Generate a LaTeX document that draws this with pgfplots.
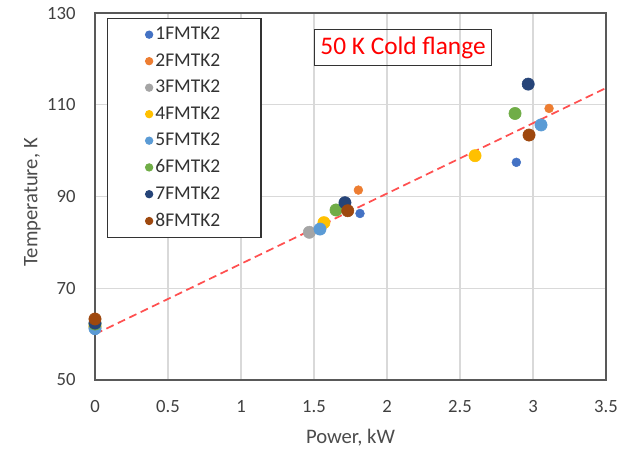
\documentclass[border=0pt]{standalone}
\usepackage{fontspec}
\setmainfont{Carlito}
\usepackage{pgfplots}
\pgfplotsset{compat=1.18}
\definecolor{c1}{HTML}{4472C4}
\definecolor{c2}{HTML}{ED7D31}
\definecolor{c3}{HTML}{A5A5A5}
\definecolor{c4}{HTML}{FFC000}
\definecolor{c5}{HTML}{5B9BD5}
\definecolor{c6}{HTML}{70AD47}
\definecolor{c7}{HTML}{264478}
\definecolor{c8}{HTML}{9E480E}
\definecolor{trend}{HTML}{FF5050}
\begin{document}
\begin{tikzpicture}
\begin{axis}[
  scale only axis, width=383.25pt, height=275.25pt,
  xmin=0, xmax=3.5, ymin=50, ymax=130,
  xtick={0,0.5,1,1.5,2,2.5,3,3.5}, ytick={50,70,90,110,130},
  grid=major, major grid style={draw=black!15, line width=0.9pt},
  axis line style={draw=black!65, line width=1.1pt},
  major tick length=0pt,
  /pgf/number format/assume math mode=true,
  ticklabel style={font=\fontsize{14}{16}\selectfont, text=black!75},
  xticklabel style={yshift=-12pt},
  yticklabel style={xshift=-11pt},
  xlabel={Power, kW}, ylabel={Temperature, K},
  label style={font=\fontsize{15.5}{18}\selectfont, text=black!70},
  xlabel style={at={(axis description cs:0.5,0)}, anchor=center, yshift=-43.5pt},
  ylabel style={at={(axis description cs:0,0.484)}, anchor=center, rotate=0, yshift=47pt},
  legend style={at={(axis description cs:0.0235,0.986)}, anchor=north west,
    draw=black!80, line width=0.8pt, font=\fontsize{14.6}{17}\selectfont,
    row sep=4.9pt, inner xsep=28.5pt, inner ysep=4.5pt, text=black!80},
  legend cell align=left,
]
\addplot[trend, line width=1.3pt, dash pattern=on 6pt off 3.5pt, forget plot] coordinates {(0,60) (3.5,113.65)};
\addplot[only marks, mark=*, mark size=3.3pt, color=c1, legend image post style={mark size=2.7pt}]
  coordinates {(0,60.8) (1.815,86.3) (2.886,97.45)};
\addlegendentry{1FMTK2}
\addplot[only marks, mark=*, mark size=3.3pt, color=c2, legend image post style={mark size=2.7pt}]
  coordinates {(0,61.3) (1.804,91.4) (3.11,109.2)};
\addlegendentry{2FMTK2}
\addplot[only marks, mark=*, mark size=4.6pt, color=c3, legend image post style={mark size=2.7pt}]
  coordinates {(0,61.5) (1.468,82.2)};
\addlegendentry{3FMTK2}
\addplot[only marks, mark=*, mark size=4.6pt, color=c4, legend image post style={mark size=2.7pt}]
  coordinates {(0,61.7) (1.568,84.3) (2.603,98.9)};
\addlegendentry{4FMTK2}
\addplot[only marks, mark=*, mark size=4.6pt, color=c5, legend image post style={mark size=2.7pt}]
  coordinates {(0,61.2) (1.541,82.9) (3.055,105.6)};
\addlegendentry{5FMTK2}
\addplot[only marks, mark=*, mark size=4.6pt, color=c6, legend image post style={mark size=2.7pt}]
  coordinates {(0,62.2) (1.651,87.06) (2.877,108.1)};
\addlegendentry{6FMTK2}
\addplot[only marks, mark=*, mark size=4.6pt, color=c7, legend image post style={mark size=2.7pt}]
  coordinates {(0,62.4) (1.712,88.65) (2.967,114.5)};
\addlegendentry{7FMTK2}
\addplot[only marks, mark=*, mark size=4.6pt, color=c8, legend image post style={mark size=2.7pt}]
  coordinates {(0,63.3) (1.731,86.9) (2.973,103.4)};
\addlegendentry{8FMTK2}
\node[draw=black!80, line width=0.8pt, text=red, font=\fontsize{19}{22}\selectfont, inner xsep=4.5pt, inner ysep=5pt] at (axis cs:2.11,122.5) {50 K Cold flange};
\end{axis}
\path[use as bounding box] (-71.25pt,-53.25pt) rectangle (399.75pt,285pt);
\end{tikzpicture}
\end{document}
